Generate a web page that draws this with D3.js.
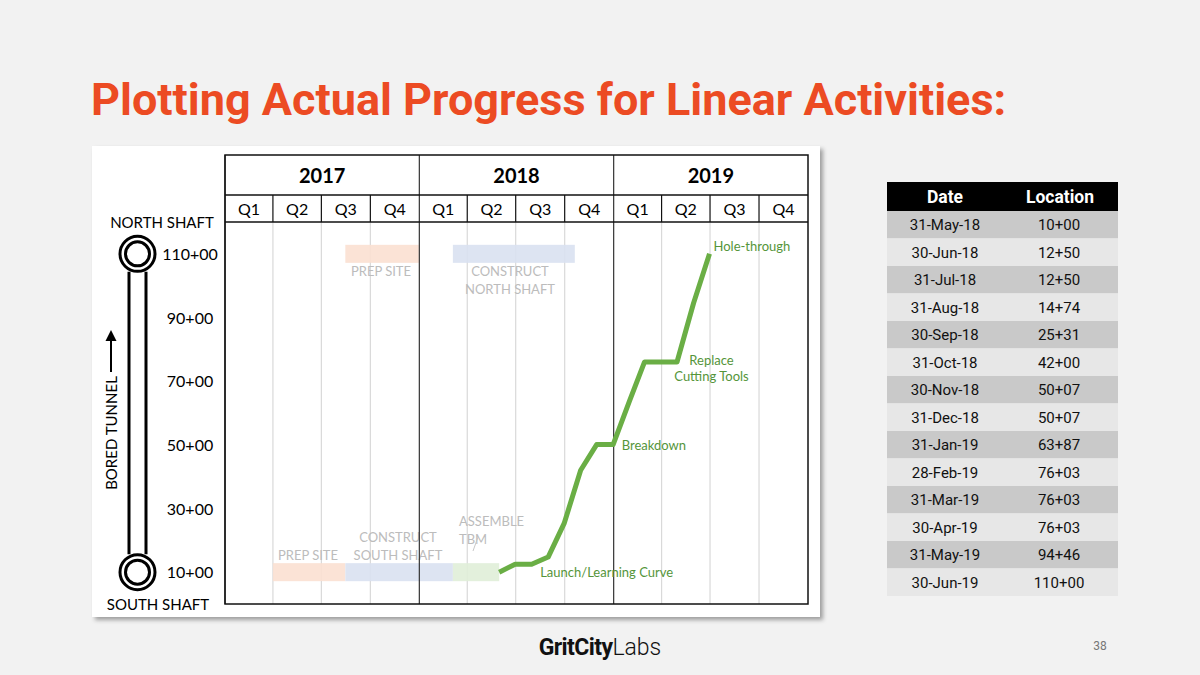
<!DOCTYPE html>
<html>
<head>
<meta charset="utf-8">
<script src="https://cdn.jsdelivr.net/npm/d3@7"></script>
<style>
  body { margin: 0; background: #f2f2f2; }
  svg { display: block; }
</style>
</head>
<body>
<svg id="slide" width="1200" height="675"></svg>
<script>
// progress readings (date, station in hundreds of feet)
var dates = ["31-May-18","30-Jun-18","31-Jul-18","31-Aug-18","30-Sep-18","31-Oct-18","30-Nov-18",
             "31-Dec-18","31-Jan-19","28-Feb-19","31-Mar-19","30-Apr-19","31-May-19","30-Jun-19"];
var locations = ["10+00","12+50","12+50","14+74","25+31","42+00","50+07",
                 "50+07","63+87","76+03","76+03","76+03","94+46","110+00"];

var years = [2017, 2018, 2019];
var quarters = ["Q1","Q2","Q3","Q4"];
var yTicks = [10, 30, 50, 70, 90, 110];

// activities: name lines, start, end, station level, fill
var actNames = [["PREP SITE"], ["CONSTRUCT","SOUTH SHAFT"], ["ASSEMBLE","TBM"], ["PREP SITE"], ["CONSTRUCT","NORTH SHAFT"]];
var actStart = ["2017-04-01","2017-08-15","2018-03-05","2017-08-15","2018-03-05"];
var actEnd   = ["2017-08-15","2018-03-05","2018-05-31","2017-12-31","2018-10-20"];
var actLevel = [10, 10, 10, 110, 110];
var actColor = ["#fbe0d2","#d9e1f1","#e0eed8","#fbe0d2","#d9e1f1"];

// events on the progress line
var notes = [["Hole-through"], ["Replace","Cutting Tools"], ["Breakdown"], ["Launch/Learning Curve"]];
var noteDate = ["2019-06-30","2019-06-30","2019-01-01","2018-08-16"];
var noteLevel = [112.5, 76.5, 50.07, 10];

var parseRow = d3.timeParse("%d-%b-%y");
var parseIso = d3.timeParse("%Y-%m-%d");
var toStation = s => +s.split("+")[0] + (+s.split("+")[1]) / 100;

var svg = d3.select("#slide");

// title
svg.append("text").attr("x", 91).attr("y", 115)
  .attr("font-family", "Roboto").attr("font-weight", 700).attr("font-size", 45)
  .attr("fill", "#ec4b23")
  .text("Plotting Actual Progress for Linear Activities:");

// panel with shadow
var defs = svg.append("defs");
var f = defs.append("filter").attr("id", "shadow").attr("x", "-5%").attr("y", "-5%").attr("width", "110%").attr("height", "110%");
f.append("feDropShadow").attr("dx", 3).attr("dy", 3).attr("stdDeviation", 2).attr("flood-color", "#000").attr("flood-opacity", 0.35);
svg.append("rect").attr("x", 92).attr("y", 146).attr("width", 728).attr("height", 471)
  .attr("fill", "#fff").attr("filter", "url(#shadow)");

var gLeft = 225, gRight = 808, gTop = 155, yearBottom = 195, qBottom = 222, gBottom = 604;
var font = "Lato, 'Open Sans', sans-serif";

var x = d3.scaleTime().domain([new Date(2017, 0, 1), new Date(2020, 0, 1)]).range([gLeft, gRight]);
var y = d3.scaleLinear().domain([0, 120]).range([gBottom, qBottom]);

var g = svg.append("g");

// quarter grid lines in plot area
var qStarts = [];
years.forEach(yr => quarters.forEach((q, i) => qStarts.push({ yr: yr, q: q, d: new Date(yr, i * 3, 1), e: new Date(yr, i * 3 + 3, 1) })));
g.selectAll(".qgrid").data(qStarts.filter(d => d.q != "Q1")).join("line")
  .attr("x1", d => x(d.d)).attr("x2", d => x(d.d))
  .attr("y1", qBottom).attr("y2", gBottom)
  .attr("stroke", "#d9d9d9").attr("stroke-width", 1.2);

// activity bars
var acts = actNames.map((n, i) => ({ n: n, s: parseIso(actStart[i]), e: parseIso(actEnd[i]), lv: actLevel[i], c: actColor[i] }));
g.selectAll(".act").data(acts).join("rect")
  .attr("x", d => x(d.s)).attr("width", d => x(d.e) - x(d.s))
  .attr("y", d => y(d.lv) - 9).attr("height", 18)
  .attr("fill", d => d.c).attr("opacity", 0.9);

// activity labels
var actLabelPos = [[308, 560, "middle"], [398, 542, "middle"], [459, 526, "start"], [381, 276, "middle"], [510, 276, "middle"]];
acts.forEach((d, i) => {
  var p = actLabelPos[i];
  var t = g.append("text").attr("text-anchor", p[2]).attr("font-family", font).attr("font-size", 13).attr("fill", "#bcbcbc");
  d.n.forEach((line, k) => t.append("tspan").attr("x", p[0]).attr("y", p[1] + k * 18).text(line));
});
g.append("line").attr("x1", 478).attr("y1", 537).attr("x2", 473).attr("y2", 551).attr("stroke", "#c8c8c8").attr("stroke-width", 1);

// year lines through everything
years.forEach(yr => {
  g.append("line").attr("x1", x(new Date(yr, 0, 1))).attr("x2", x(new Date(yr, 0, 1)))
    .attr("y1", gTop).attr("y2", gBottom).attr("stroke", "#333").attr("stroke-width", 1.2);
});
// header borders
g.append("rect").attr("x", gLeft).attr("y", gTop).attr("width", gRight - gLeft).attr("height", gBottom - gTop)
  .attr("fill", "none").attr("stroke", "#111").attr("stroke-width", 1.5);
[yearBottom, qBottom].forEach(yy => g.append("line").attr("x1", gLeft).attr("x2", gRight).attr("y1", yy).attr("y2", yy).attr("stroke", "#111").attr("stroke-width", 1.3));
g.selectAll(".qsep").data(qStarts.filter(d => d.q != "Q1")).join("line")
  .attr("x1", d => x(d.d)).attr("x2", d => x(d.d)).attr("y1", yearBottom).attr("y2", qBottom)
  .attr("stroke", "#111").attr("stroke-width", 1.2);

// year + quarter labels
g.selectAll(".yl").data(years).join("text")
  .attr("x", d => (x(new Date(d, 0, 1)) + x(new Date(d + 1, 0, 1))) / 2).attr("y", 183)
  .attr("text-anchor", "middle").attr("font-family", font).attr("font-weight", 700).attr("font-size", 20)
  .attr("fill", "#000").text(d => d);
g.selectAll(".ql").data(qStarts).join("text")
  .attr("x", d => (x(d.d) + x(d.e)) / 2).attr("y", 215)
  .attr("text-anchor", "middle").attr("font-family", font).attr("font-size", 16)
  .attr("fill", "#000").text(d => d.q);

// y axis labels
var yAxis = svg.append("g").attr("transform", "translate(190,0)")
  .call(d3.axisLeft(y).tickValues(yTicks).tickSize(0).tickPadding(0).tickFormat(d => d + "+00"));
yAxis.select(".domain").remove();
yAxis.selectAll("text").attr("text-anchor", "middle").attr("font-family", font).attr("font-size", 16).attr("fill", "#000").attr("dy", "0.35em");

// progress line
var pts = dates.map((d, i) => ({ d: parseRow(d), v: toStation(locations[i]) }));
g.append("path").datum(pts)
  .attr("d", d3.line().x(d => x(d.d)).y(d => y(d.v)))
  .attr("fill", "none").attr("stroke", "#6aae45").attr("stroke-width", 5).attr("stroke-linejoin", "round");

// notes
var noteAnchor = ["start", "middle", "start", "start"];
var noteDx = [4, 2, 8, 0];
notes.forEach((n, i) => {
  var t = g.append("text").attr("text-anchor", noteAnchor[i]).attr("font-family", font).attr("font-size", 13).attr("fill", "#55953a");
  n.forEach((line, k) => t.append("tspan").attr("x", x(parseIso(noteDate[i])) + noteDx[i])
    .attr("y", y(noteLevel[i]) + 5 + k * 16).text(line));
});

// left shaft diagram
var sd = svg.append("g");
var cx = 137.5;
[-8.5, 8.5].forEach(dx => sd.append("line").attr("x1", cx + dx).attr("x2", cx + dx)
  .attr("y1", y(110) + 18).attr("y2", y(10) - 18).attr("stroke", "#000").attr("stroke-width", 3));
[110, 10].forEach(v => {
  sd.append("circle").attr("cx", cx).attr("cy", y(v)).attr("r", 17.5).attr("fill", "#fff").attr("stroke", "#000").attr("stroke-width", 3);
  sd.append("circle").attr("cx", cx).attr("cy", y(v)).attr("r", 12).attr("fill", "#fff").attr("stroke", "#000").attr("stroke-width", 3);
});
sd.append("text").attr("x", 162).attr("y", 228).attr("text-anchor", "middle").attr("font-family", font).attr("font-size", 15).text("NORTH SHAFT");
sd.append("text").attr("x", 158).attr("y", 610).attr("text-anchor", "middle").attr("font-family", font).attr("font-size", 15).text("SOUTH SHAFT");
sd.append("text").attr("transform", "translate(117,433) rotate(-90)").attr("text-anchor", "middle")
  .attr("font-family", font).attr("font-size", 15).text("BORED TUNNEL");
sd.append("line").attr("x1", 111).attr("x2", 111).attr("y1", 372).attr("y2", 338).attr("stroke", "#000").attr("stroke-width", 2);
sd.append("path").attr("d", "M105.5,341 L111,330 L116.5,341 Z").attr("fill", "#000");

// table
var tx = 887, tw = 231, hy = 182, hh = 29, rh = 27.5;
var tbl = svg.append("g");
tbl.append("rect").attr("x", tx).attr("y", hy).attr("width", tw).attr("height", hh).attr("fill", "#000");
tbl.append("text").attr("x", 945).attr("y", hy + 20.5).attr("text-anchor", "middle").attr("font-family", "Roboto").attr("font-weight", 700).attr("font-size", 17.5).attr("fill", "#fff").text("Date");
tbl.append("text").attr("x", 1060).attr("y", hy + 20.5).attr("text-anchor", "middle").attr("font-family", "Roboto").attr("font-weight", 700).attr("font-size", 17.5).attr("fill", "#fff").text("Location");
var rows = tbl.selectAll(".row").data(dates.map((d, i) => [d, locations[i]])).join("g")
  .attr("transform", (d, i) => `translate(0,${hy + hh + i * rh})`);
rows.append("rect").attr("x", tx).attr("width", tw).attr("height", rh).attr("fill", (d, i) => i % 2 ? "#e7e7e7" : "#c9c9c9");
rows.append("text").attr("x", 945).attr("y", 19).attr("text-anchor", "middle").attr("font-family", "Roboto").attr("font-size", 15).attr("fill", "#111").text(d => d[0]);
rows.append("text").attr("x", 1059).attr("y", 19).attr("text-anchor", "middle").attr("font-family", "Roboto").attr("font-size", 15).attr("fill", "#111").text(d => d[1]);

// footer
var ft = svg.append("text").attr("x", 600).attr("y", 655).attr("text-anchor", "middle").attr("font-family", "Roboto").attr("font-size", 23).attr("fill", "#111").attr("letter-spacing", -0.6);
ft.append("tspan").attr("font-weight", 700).text("GritCity");
ft.append("tspan").attr("font-weight", 300).attr("letter-spacing", 0).text("Labs");
svg.append("text").attr("x", 1100).attr("y", 650).attr("text-anchor", "middle").attr("font-family", "Roboto").attr("font-size", 12).attr("fill", "#777").text("38");
</script>
</body>
</html>
